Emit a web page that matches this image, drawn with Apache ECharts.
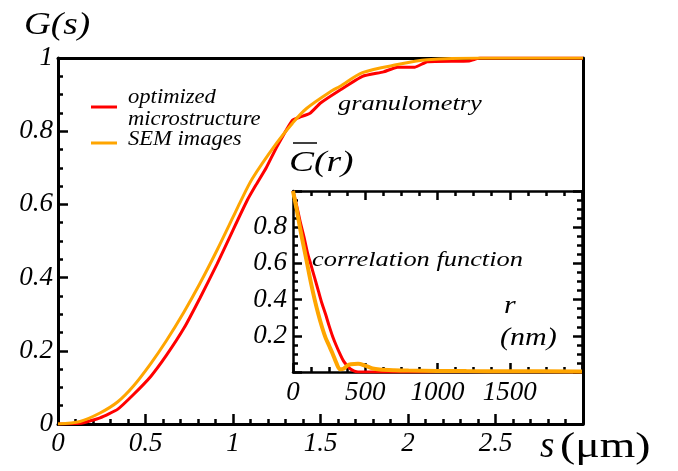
<!DOCTYPE html>
<html>
<head>
<meta charset="utf-8">
<script src="https://cdn.jsdelivr.net/npm/echarts@6/dist/echarts.min.js"></script>
<style>html,body{margin:0;padding:0;background:#fff;font-family:'Liberation Serif';}#c{width:678px;height:471px;}</style>
</head>
<body>
<div id="c"></div>
<script>
// Granulometry G(s), s in µm
var sOpt = [0, 0.14, 0.24, 0.34, 0.43, 0.53, 0.62, 0.72, 0.81, 0.91, 1.0, 1.08, 1.13, 1.19, 1.25, 1.34, 1.38, 1.44, 1.5, 1.61, 1.74, 1.86, 1.94, 2.04, 2.11, 2.35, 2.41, 3.0];
var gOpt = [0, 0.003, 0.017, 0.04, 0.08, 0.13, 0.188, 0.262, 0.343, 0.438, 0.53, 0.61, 0.652, 0.70, 0.757, 0.83, 0.838, 0.849, 0.877, 0.912, 0.95, 0.962, 0.975, 0.975, 0.99, 0.992, 1.0, 1.0];
var sSem = [0, 0.126, 0.24, 0.34, 0.43, 0.53, 0.62, 0.72, 0.81, 0.91, 1.0, 1.04, 1.11, 1.25, 1.34, 1.42, 1.57, 1.61, 1.74, 1.94, 2.11, 2.41, 3.0];
var gSem = [0, 0.007, 0.03, 0.06, 0.103, 0.165, 0.228, 0.306, 0.383, 0.476, 0.565, 0.605, 0.67, 0.768, 0.822, 0.862, 0.912, 0.922, 0.96, 0.982, 0.995, 1.0, 1.0];
// Correlation function C(r), r in nm
var rOpt = [0, 25, 50, 75, 100, 125, 150, 175, 200, 225, 250, 275, 300, 325, 350, 375, 400, 425, 450, 500, 600, 700, 800, 1000, 1500, 2000];
var cOpt = [1.0, 0.92, 0.83, 0.75, 0.66, 0.59, 0.52, 0.45, 0.38, 0.32, 0.255, 0.195, 0.145, 0.1, 0.06, 0.035, 0.015, 0.005, 0.0, 0.0, 0.0, 0.0, 0.0, 0.001, 0.001, 0.0];
var rSem = [0, 25, 50, 75, 100, 125, 150, 175, 200, 225, 250, 275, 300, 325, 350, 375, 400, 450, 500, 550, 600, 700, 800, 1000, 1200, 1500, 2000];
var cSem = [1.0, 0.9, 0.79, 0.69, 0.59, 0.49, 0.4, 0.32, 0.25, 0.19, 0.145, 0.1, 0.05, 0.015, 0.018, 0.035, 0.043, 0.045, 0.035, 0.02, 0.014, 0.01, 0.008, 0.006, 0.005, 0.004, 0.003];
var seriesNames = ['optimized microstructure', 'SEM images'];
var mainXTicks = [0, 0.5, 1, 1.5, 2, 2.5];
var insetXTicks = [0, 500, 1000, 1500];

function zip(a, b) { return a.map(function (v, i) { return [v, b[i]]; }); }

var FONT = "'Liberation Serif', 'Times New Roman', Times, serif";
var RED = '#ff0000', ORANGE = '#ffa500';
var lblStyle = { fontFamily: FONT, fontStyle: 'italic', fontSize: 27, color: '#000' };

function txt(str, x, y, fs, sx, italic, z) {
  return { type: 'text', x: x, y: y, scaleX: sx, z: z || 10,
    style: { text: str, fontFamily: FONT, fontStyle: italic === false ? 'normal' : 'italic', fontSize: fs, fill: '#000', verticalAlign: 'top', align: 'left' } };
}

var chart = echarts.init(document.getElementById('c'), null, { renderer: 'canvas' });
chart.setOption({
  animation: false,
  backgroundColor: '#fff',
  textStyle: { fontFamily: FONT },
  grid: [
    { left: 58, top: 58, width: 525, height: 366 },
    { left: 293, top: 191, width: 289, height: 181, show: true, backgroundColor: '#fff', borderWidth: 0, z: 5 }
  ],
  xAxis: [
    { gridIndex: 0, type: 'value', min: 0, max: 3, interval: 0.5, position: 'bottom',
      axisLine: { lineStyle: { color: '#000', width: 3 } },
      axisTick: { inside: true, length: 10, lineStyle: { color: '#000', width: 2.5 } },
      minorTick: { show: true, splitNumber: 5, length: 5, lineStyle: { color: '#000', width: 2.5 } },
      splitLine: { show: false },
      axisLabel: Object.assign({ margin: 6, formatter: function (v) { return mainXTicks.indexOf(v) >= 0 ? String(v) : ''; } }, lblStyle) },
    { gridIndex: 0, type: 'value', min: 0, max: 3, position: 'top',
      axisLine: { onZero: false, lineStyle: { color: '#000', width: 3 } },
      axisTick: { show: false }, axisLabel: { show: false }, splitLine: { show: false } },
    { gridIndex: 1, type: 'value', min: 0, max: 2000, interval: 500, position: 'bottom', z: 6,
      axisLine: { lineStyle: { color: '#000', width: 2.5 } },
      axisTick: { inside: true, length: 9, lineStyle: { color: '#000', width: 2.5 } },
      minorTick: { show: true, splitNumber: 4, length: 5, lineStyle: { color: '#000', width: 2.5 } },
      splitLine: { show: false },
      axisLabel: Object.assign({ margin: 7, formatter: function (v) { return insetXTicks.indexOf(v) >= 0 ? String(v) : ''; } }, lblStyle) },
    { gridIndex: 1, type: 'value', min: 0, max: 2000, interval: 500, position: 'top', z: 6,
      axisLine: { onZero: false, lineStyle: { color: '#000', width: 2.5 } },
      axisTick: { inside: true, length: 9, lineStyle: { color: '#000', width: 2.5 } },
      minorTick: { show: true, splitNumber: 4, length: 5, lineStyle: { color: '#000', width: 2.5 } },
      axisLabel: { show: false }, splitLine: { show: false } }
  ],
  yAxis: [
    { gridIndex: 0, type: 'value', min: 0, max: 1, interval: 0.2, position: 'left',
      axisLine: { lineStyle: { color: '#000', width: 3 } },
      axisTick: { inside: true, length: 10, lineStyle: { color: '#000', width: 2.5 } },
      minorTick: { show: true, splitNumber: 4, length: 5, lineStyle: { color: '#000', width: 2.5 } },
      splitLine: { show: false },
      axisLabel: Object.assign({ margin: 5 }, lblStyle) },
    { gridIndex: 0, type: 'value', min: 0, max: 1, position: 'right',
      axisLine: { onZero: false, lineStyle: { color: '#000', width: 3 } },
      axisTick: { show: false }, axisLabel: { show: false }, splitLine: { show: false } },
    { gridIndex: 1, type: 'value', min: 0, max: 1, interval: 0.2, position: 'left', z: 6,
      axisLine: { lineStyle: { color: '#000', width: 2.5 } },
      axisTick: { inside: true, length: 9, lineStyle: { color: '#000', width: 2.5 } },
      minorTick: { show: true, splitNumber: 4, length: 5, lineStyle: { color: '#000', width: 2.5 } },
      splitLine: { show: false },
      axisLabel: Object.assign({ margin: 6, formatter: function (v) { return (v > 0 && v < 1) ? String(v) : ''; } }, lblStyle) },
    { gridIndex: 1, type: 'value', min: 0, max: 1, interval: 0.2, position: 'right', z: 6,
      axisLine: { onZero: false, lineStyle: { color: '#000', width: 2.5 } },
      axisTick: { inside: true, length: 9, lineStyle: { color: '#000', width: 2.5 } },
      minorTick: { show: true, splitNumber: 4, length: 5, lineStyle: { color: '#000', width: 2.5 } },
      axisLabel: { show: false }, splitLine: { show: false } }
  ],
  series: [
    { name: seriesNames[0], type: 'line', xAxisIndex: 0, yAxisIndex: 0, data: zip(sOpt, gOpt), showSymbol: false, smooth: 0.15,
      lineStyle: { color: RED, width: 3 }, z: 2 },
    { name: seriesNames[1], type: 'line', xAxisIndex: 0, yAxisIndex: 0, data: zip(sSem, gSem), showSymbol: false, smooth: 0.3,
      lineStyle: { color: ORANGE, width: 3 }, z: 3 },
    { name: seriesNames[0], type: 'line', xAxisIndex: 2, yAxisIndex: 2, data: zip(rOpt, cOpt), showSymbol: false, smooth: 0.3,
      lineStyle: { color: RED, width: 3 }, z: 7 },
    { name: seriesNames[1], type: 'line', xAxisIndex: 2, yAxisIndex: 2, data: zip(rSem, cSem), showSymbol: false, smooth: 0.3,
      lineStyle: { color: ORANGE, width: 4 }, z: 8 }
  ],
  graphic: [
    txt('G(s)', 24, 10, 31, 1.2),
    txt('s', 540, 429, 37, 1.0),
    txt('(\u03bcm)', 560, 430, 36, 1.27, false),
    txt('C(r)', 289, 148, 30, 1.25),
    { type: 'line', z: 10, shape: { x1: 293, y1: 143, x2: 317, y2: 143 }, style: { stroke: '#000', lineWidth: 1.5 } },
    txt('r', 504, 294, 25, 1.2),
    txt('(nm)', 500, 326, 25, 1.2),
    txt('granulometry', 338, 93, 22, 1.2),
    txt('correlation function', 312, 249, 22, 1.2, true, 20),
    { type: 'line', z: 10, shape: { x1: 91, y1: 107, x2: 117, y2: 107 }, style: { stroke: RED, lineWidth: 3 } },
    txt('optimized', 128, 88, 20, 1.13),
    txt('microstructure', 128, 110, 20, 1.13),
    { type: 'line', z: 10, shape: { x1: 91, y1: 143, x2: 117, y2: 143 }, style: { stroke: ORANGE, lineWidth: 3 } },
    txt('SEM images', 128, 130, 20, 1.13)
  ]
});
</script>
</body>
</html>
